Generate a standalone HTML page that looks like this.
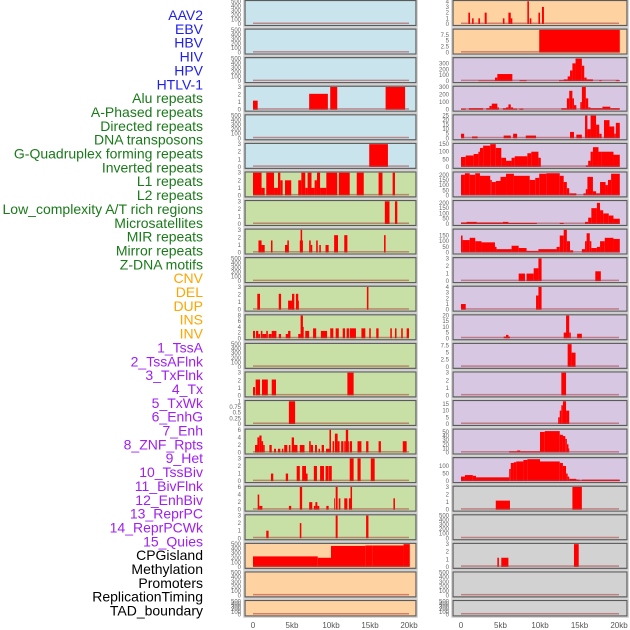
<!DOCTYPE html>
<html><head><meta charset="utf-8">
<style>
html,body{margin:0;padding:0;background:#fff;}
body{width:630px;height:630px;overflow:hidden;position:relative;font-family:"Liberation Sans",sans-serif;}
svg{position:absolute;left:0;top:0;}
</style></head>
<body>
<svg id="chart" width="630" height="630" viewBox="0 0 630 630"></svg>
<script>
// ---- data ----
const trackLabels = ["AAV2","EBV","HBV","HIV","HPV","HTLV-1","Alu repeats","A-Phased repeats","Directed repeats","DNA transposons","G-Quadruplex forming repeats","Inverted repeats","L1 repeats","L2 repeats","Low_complexity A/T rich regions","Microsatellites","MIR repeats","Mirror repeats","Z-DNA motifs","CNV","DEL","DUP","INS","INV","1_TssA","2_TssAFlnk","3_TxFlnk","4_Tx","5_TxWk","6_EnhG","7_Enh","8_ZNF_Rpts","9_Het","10_TssBiv","11_BivFlnk","12_EnhBiv","13_ReprPC","14_ReprPCWk","15_Quies","CPGisland","Methylation","Promoters","ReplicationTiming","TAD_boundary"];
const labelColors = ["#2020ee","#2020ee","#2020ee","#2020ee","#2020ee","#2020ee","#1a7a1a","#1a7a1a","#1a7a1a","#1a7a1a","#1a7a1a","#1a7a1a","#1a7a1a","#1a7a1a","#1a7a1a","#1a7a1a","#1a7a1a","#1a7a1a","#1a7a1a","#ffa500","#ffa500","#ffa500","#ffa500","#ffa500","#a020f0","#a020f0","#a020f0","#a020f0","#a020f0","#a020f0","#a020f0","#a020f0","#a020f0","#a020f0","#a020f0","#a020f0","#a020f0","#a020f0","#a020f0","#000","#000","#000","#000","#000"];
const xTicks = [0,5,10,15,20];
const xTickLabels = ["0","5kb","10kb","15kb","20kb"];
const ticksEmpty = [0,100,200,300,400,500];
const ticks3 = [0,1,2,3];
const ticks6 = [0,2,4,6];
const ticks8 = [0,2,4,6,8];

// segments: [startKb, endKb, value]
const segL4 = [[0,0.6,1.2],[7.2,9.6,2.1],[9.9,10.8,3],[17,19.5,3]];
const segL6 = [[14.9,17.3,3]];
const segL7 = [[0,1.1,3],[1.1,1.5,1],[1.7,2.7,3],[2.7,3.2,1],[3.2,3.5,3],[3.5,3.8,2],[4.1,4.9,2],[5.8,6.2,2],[6.2,6.7,3],[6.7,7.0,1],[7.0,7.5,3],[7.5,7.9,1],[7.9,8.2,2],[8.2,8.6,3],[8.6,9.4,1],[9.4,10.8,3],[11.0,12.4,3],[13.3,14.2,3],[16.1,16.6,3],[17.9,18.2,3]];
const segL8 = [[16.9,17.5,3],[18.2,18.5,3]];
const segL9 = [[0.7,1.1,1.6],[1.1,1.5,1],[2.3,2.5,1.6],[4.1,4.5,1],[4.4,4.6,1.6],[6.0,6.4,1.6],[6.1,6.3,3],[7.2,7.4,1.6],[7.4,7.6,1],[8.1,8.3,1.6],[8.5,8.7,1],[9.3,9.7,1],[10.4,10.9,2.3],[11.7,12.1,2.3],[16.8,17.0,2.3]];
const segL11 = [[0.55,0.9,2.1],[3.3,3.6,2.1],[4.5,5.2,1.2],[5.0,5.3,2.1],[5.5,5.8,2.1],[5.8,5.9,1.2],[14.6,14.8,3]];
const segL12 = [[0,0.26,2.6],[0.39,0.68,2.6],[0.68,0.9,1.5],[1.0,1.2,2.6],[1.2,1.7,1.5],[1.7,1.9,2.6],[2.0,2.4,1.5],[2.4,3.0,2.6],[3.3,3.6,1.5],[4.2,4.7,1.5],[4.5,4.8,2.6],[5.8,6.1,1.5],[6.1,6.4,8],[6.3,6.5,4],[6.7,7.2,2.6],[7.7,8.1,3.5],[8.7,9.5,2.6],[9.9,10.3,3.5],[10.6,11.0,3.5],[11.5,11.8,3.5],[12.0,12.3,3.5],[12.4,13.2,3.5],[13.9,14.4,3.5],[14.9,15.1,3.5],[15.8,16.1,3.5],[17.6,17.8,3.5],[18.2,18.4,3.5],[19.0,19.2,3.5],[19.7,20.0,3.5]];
const segL14 = [[0,0.26,1.1],[0.34,0.9,2.1],[1.15,1.9,2.1],[2.4,2.95,2.1],[12.1,12.9,3]];
const segL15 = [[4.6,5.4,1]];
const segL16 = [[0.26,0.68,2],[0.56,0.81,4],[0.81,1.1,4.5],[1.1,1.3,3],[1.3,1.5,2],[2.1,2.4,2],[2.7,2.95,1],[3.2,3.5,1],[3.7,3.9,1],[4.0,4.4,2],[4.6,4.8,2],[4.96,5.26,4],[5.26,5.7,2],[6.0,6.6,2],[7.2,7.4,3],[7.4,7.7,2],[7.95,8.2,2],[8.4,8.6,1],[8.8,9.1,2],[9.36,9.8,1],[9.8,10.0,6],[10.2,10.4,3],[10.5,10.85,5],[10.85,11.1,3],[11.3,11.6,3],[11.7,11.9,3],[11.9,12.2,6],[12.2,12.3,3],[12.4,12.7,3],[13.4,13.9,3],[14.5,14.8,3],[16.1,16.4,3],[19.2,19.7,3]];
const segL17 = [[2.3,2.6,1],[4.2,4.5,1],[5.6,6.0,2],[6.3,6.8,2],[6.7,7.0,1],[7.8,8.2,2],[8.6,9.1,2],[9.3,9.7,2],[9.75,10.1,2],[12.4,12.9,3],[13.4,13.8,3],[15.1,15.6,3]];
const segL18 = [[0.6,0.8,4],[0.8,1.2,1],[4.6,4.9,1],[6.0,6.3,6],[7.2,7.6,2],[7.8,8.0,1],[8.0,8.25,2],[8.25,8.5,1],[9.4,9.7,1],[10.4,10.5,3],[10.6,10.85,6],[11.0,11.2,3],[11.7,12.1,3],[12.3,12.5,3],[12.5,12.7,6],[18.0,18.2,3]];
const segL19 = [[1.7,2.0,1],[6.0,6.2,2],[10.6,10.85,3],[14.5,14.8,3]];
const segL20 = [[0,8.3,230],[8.3,10,200],[10,14.4,460],[14.4,15.3,470],[15.3,19.3,470],[19.3,20.1,500]];
const segR1 = [[0.93,1.14,2],[1.4,1.6,1],[2.2,2.4,1],[3.0,3.25,2],[5.3,5.5,1],[6.0,6.3,2],[6.3,6.5,1],[8.4,8.6,4],[8.7,8.9,1],[9.8,10.0,2],[10.25,10.5,3]];
const segR2 = [[9.9,20.1,9.6]];
const segR3 = [[2.2,4.3,10],[4.3,4.6,60],[4.6,6.5,120],[7.4,8.3,15],[12.4,13.0,15],[13.0,13.5,30],[13.5,13.8,80],[13.8,14.1,180],[14.1,14.5,300],[14.5,15.3,380],[15.3,15.6,260],[15.6,15.9,60],[15.9,16.7,30],[17.5,17.8,15],[19.6,20.1,15]];
const segR4 = [[0,0.6,15],[1.0,2.8,20],[3.2,3.6,20],[3.6,3.9,50],[3.9,4.6,80],[4.6,4.8,30],[5.3,5.7,20],[5.7,6.0,30],[6.0,6.3,70],[6.3,6.6,30],[6.6,7.1,15],[7.4,7.9,15],[12.7,13.4,20],[13.4,13.7,150],[13.7,14.1,250],[14.1,14.3,150],[14.3,14.6,60],[15.1,15.3,100],[15.3,15.8,300],[15.8,16.1,150],[16.1,16.4,30],[16.4,17.9,20],[17.9,18.9,40],[18.9,20.1,20]];
const segR5 = [[0,0.4,5],[1.4,2.1,2],[5.4,6.3,3],[6.6,7.1,5],[8.2,9.5,3],[13.8,14.3,7],[14.6,15.3,4],[15.7,16.0,25],[16.0,16.4,10],[16.4,17.1,25],[17.1,17.5,15],[17.5,17.8,5],[18.1,18.8,20],[18.8,19.4,13],[19.4,19.6,5],[19.6,20.1,17]];
const segR6 = [[0,0.6,65],[0.6,1.6,75],[1.6,2.2,85],[2.2,2.4,100],[2.4,2.8,125],[2.8,3.7,140],[3.7,4.4,150],[4.4,5.1,125],[5.1,5.7,60],[5.7,6.4,40],[6.4,6.8,60],[6.8,8.4,70],[8.4,8.9,90],[8.9,9.8,100],[9.8,10.1,60],[15.8,16.1,10],[16.1,16.4,40],[16.4,16.7,100],[16.7,17.4,130],[17.4,17.8,100],[17.8,19.3,100],[19.3,20.1,80]];
const segR7 = [[0,0.5,200],[0.5,1.1,215],[1.1,1.8,200],[1.8,2.4,215],[2.4,3.7,190],[3.7,3.9,150],[3.9,4.4,130],[4.4,5.0,140],[5.0,5.7,180],[5.7,6.7,210],[6.7,8.7,190],[8.7,9.4,150],[9.4,9.9,170],[9.9,10.8,210],[10.8,12.5,215],[12.5,13.0,190],[13.0,13.4,130],[13.4,13.7,70],[13.7,14.6,20],[15.5,15.8,20],[15.8,16.0,60],[16.0,16.7,180],[16.7,17.1,40],[17.1,17.6,20],[17.6,18.3,130],[18.3,18.6,100],[18.6,19.0,150],[19.0,20.1,210]];
const segR8 = [[0,0.7,15],[0.7,2.0,20],[2.0,5.3,15],[5.3,6.0,20],[6.0,9.6,10],[12.5,13.0,10],[15.7,16.1,20],[16.1,16.5,60],[16.5,17.2,150],[17.2,17.6,200],[17.6,18.0,130],[18.0,18.7,100],[18.7,19.3,80],[19.3,20.1,50]];
const segR9 = [[0,0.2,150],[0.2,1.1,110],[1.1,1.8,130],[1.8,2.6,100],[2.6,4.3,90],[4.3,4.5,50],[4.5,6.4,30],[6.4,7.3,60],[7.3,8.3,40],[8.3,9.8,15],[9.8,12.1,30],[12.1,12.5,50],[12.5,13.0,150],[13.0,13.4,200],[13.4,13.8,100],[13.8,14.2,20],[15.3,15.7,30],[15.7,15.9,100],[15.9,16.3,170],[16.3,16.5,100],[16.5,17.2,40],[17.2,17.6,50],[17.6,18.2,100],[18.2,19.3,130],[19.3,20.1,120]];
const segR10 = [[7.3,8.1,1],[8.3,9.2,1],[9.2,9.8,1.7],[9.8,10.2,3],[17.0,17.7,1.3]];
const segR11 = [[0,0.6,1],[9.5,9.8,2.5],[9.8,10.2,4]];
const segR12 = [[5.4,6.2,1.5],[5.7,6.0,3],[13.0,13.4,5],[13.3,13.7,20],[13.7,13.9,5],[14.7,15.3,4]];
const segR13 = [[13.5,14.0,8],[14.0,14.5,5]];
const segR14 = [[12.7,13.3,3]];
const segR15 = [[12.3,12.5,5],[12.5,12.7,10],[12.7,12.9,14],[12.9,13.3,17],[13.3,13.7,10]];
const segR16 = [[6.1,7.1,3],[7.1,7.5,5],[7.5,10.0,3],[10.0,10.6,50],[10.6,12.5,52],[12.5,12.9,43],[12.9,13.2,40],[13.2,13.4,33],[13.4,13.6,20],[13.6,13.7,10]];
const segR17 = [[0,0.5,30],[0.5,1.5,40],[1.5,1.9,35],[1.9,6.1,25],[6.1,6.3,80],[6.3,6.7,120],[6.7,7.0,125],[7.0,7.9,130],[7.9,8.4,140],[8.4,10.0,145],[10.0,12.5,130],[12.5,12.9,120],[12.9,13.3,100],[13.3,13.5,50],[13.5,13.7,30],[13.7,14.6,15],[14.6,15.0,10],[15.0,15.3,5],[15.3,20.1,10]];
const segR18 = [[4.4,6.2,1.2],[14.1,15.3,3]];
const segR20 = [[4.6,4.8,1.2],[5.1,6.0,1.2],[14.3,14.9,3]];
const segNone = [];

// panel config: [column, row, background, ymax, tickValues, segments]
const BLUE="#c9e4ec", GREEN="#c8e0a6", PEACH="#ffd2a2", LAV="#d7c7e3", GRAY="#d2d2d2";
const panelDefs = [
 ["L",0,BLUE,500,ticksEmpty,segNone],["L",1,BLUE,500,ticksEmpty,segNone],["L",2,BLUE,500,ticksEmpty,segNone],
 ["L",3,BLUE,3,ticks3,segL4],["L",4,BLUE,500,ticksEmpty,segNone],["L",5,BLUE,3,ticks3,segL6],
 ["L",6,GREEN,3,ticks3,segL7],["L",7,GREEN,3,ticks3,segL8],["L",8,GREEN,3,ticks3,segL9],
 ["L",9,GREEN,500,ticksEmpty,segNone],["L",10,GREEN,3,ticks3,segL11],["L",11,GREEN,8,ticks8,segL12],
 ["L",12,GREEN,500,ticksEmpty,segNone],["L",13,GREEN,3,ticks3,segL14],["L",14,GREEN,1,[0,0.25,0.5,0.75,1],segL15],
 ["L",15,GREEN,6,ticks6,segL16],["L",16,GREEN,3,ticks3,segL17],["L",17,GREEN,6,ticks6,segL18],
 ["L",18,GREEN,3,ticks3,segL19],["L",19,PEACH,500,ticksEmpty,segL20],["L",20,PEACH,500,ticksEmpty,segNone],
 ["L",21,PEACH,500,ticksEmpty,segNone],
 ["R",0,PEACH,4,[0,1,2,3,4],segR1],["R",1,PEACH,9.6,[0,2.5,5,7.5],segR2],["R",2,LAV,383,[0,100,200,300],segR3],
 ["R",3,LAV,300,[0,100,200,300],segR4],["R",4,LAV,25,[0,5,10,15,20,25],segR5],["R",5,LAV,150,[0,50,100,150],segR6],
 ["R",6,LAV,220,[0,50,100,150,200],segR7],["R",7,LAV,215,[0,50,100,150,200],segR8],["R",8,LAV,200,[0,50,100,150],segR9],
 ["R",9,LAV,3,ticks3,segR10],["R",10,LAV,4,[0,1,2,3,4],segR11],["R",11,LAV,20,[0,5,10,15,20],segR12],
 ["R",12,LAV,8,[0,2.5,5,7.5],segR13],["R",13,LAV,3,ticks3,segR14],["R",14,LAV,17,[0,5,10,15],segR15],
 ["R",15,LAV,55,[0,10,20,30,40,50],segR16],["R",16,LAV,150,[0,50,100],segR17],["R",17,GRAY,3,ticks3,segR18],
 ["R",18,GRAY,500,ticksEmpty,segNone],["R",19,GRAY,3,ticks3,segR20],["R",20,GRAY,500,ticksEmpty,segNone],
 ["R",21,GRAY,500,ticksEmpty,segNone]
];

// ---- drawing ----
const NS="http://www.w3.org/2000/svg";
const svg=document.getElementById("chart");
function mk(tag,attrs,parent){const e=document.createElementNS(NS,tag);for(const k in attrs)e.setAttribute(k,attrs[k]);(parent||svg).appendChild(e);return e;}
const colGeom={L:{left:245,right:416,x0:253,x20:409,tickX:241},R:{left:453,right:627,x0:461,x20:619,tickX:449}};
function rowTop(r){return 0.5+r*28.57;}
function rowH(r){return r===21?15.5:25;}
function xScale(col,kb){const g=colGeom[col];return g.x0+(g.x20-g.x0)*kb/20;}

// labels
trackLabels.forEach((t,i)=>{
  const el=mk("text",{x:203,y:15+i*13.85+5,"text-anchor":"end","font-size":"14",fill:labelColors[i],"font-family":"Liberation Sans, sans-serif"});
  
  
  el.textContent=t;
});

panelDefs.forEach(p=>{
  const [col,row,bg,ymax,ticks,segs]=p;
  const g=colGeom[col];
  const top=rowTop(row), h=rowH(row);
  const base=top+h-1.5, ytop=top+0.8;
  const yS=v=>base-(base-ytop)*Math.min(v,ymax)/ymax;
  const grp=mk("g",{});
  
  
  const frame=mk("rect",{x:g.left,y:top,width:g.right-g.left,height:h,fill:bg,stroke:"#5a5a5a","stroke-width":"1.2"},grp);
  
  
  mk("rect",{x:g.left-1.2,y:top-1.2,width:g.right-g.left+2.4,height:h+2.4,fill:"none",stroke:"#c8c8c8","stroke-width":"1"},grp);
  segs.forEach(s=>{
    const x1=xScale(col,s[0]), x2=xScale(col,s[1]);
    const b=mk("rect",{x:x1,y:yS(s[2]),width:Math.max(0.8,x2-x1),height:base-yS(s[2]),fill:"#ff0000"},grp);
    
    
  });
  const bl=mk("rect",{x:xScale(col,0),y:base-1.5,width:xScale(col,20)-xScale(col,0),height:1.5,fill:"rgba(170,60,60,0.55)"},grp);
  
  
  ticks.forEach(v=>{
    const t=mk("text",{x:g.tickX,y:yS(v)+2,"text-anchor":"end","font-size":"6",fill:"#666","font-family":"Liberation Sans, sans-serif"},grp);
    
    
    t.textContent=String(v);
  });
});

// x-axis ticks
["L","R"].forEach(col=>{
  xTicks.forEach((v,i)=>{
    const t=mk("text",{x:xScale(col,v),y:628,"text-anchor":"middle","font-size":"8",fill:"#555","font-family":"Liberation Sans, sans-serif"});
    
    
    t.textContent=xTickLabels[i];
  });
});
</script>
</body></html>
